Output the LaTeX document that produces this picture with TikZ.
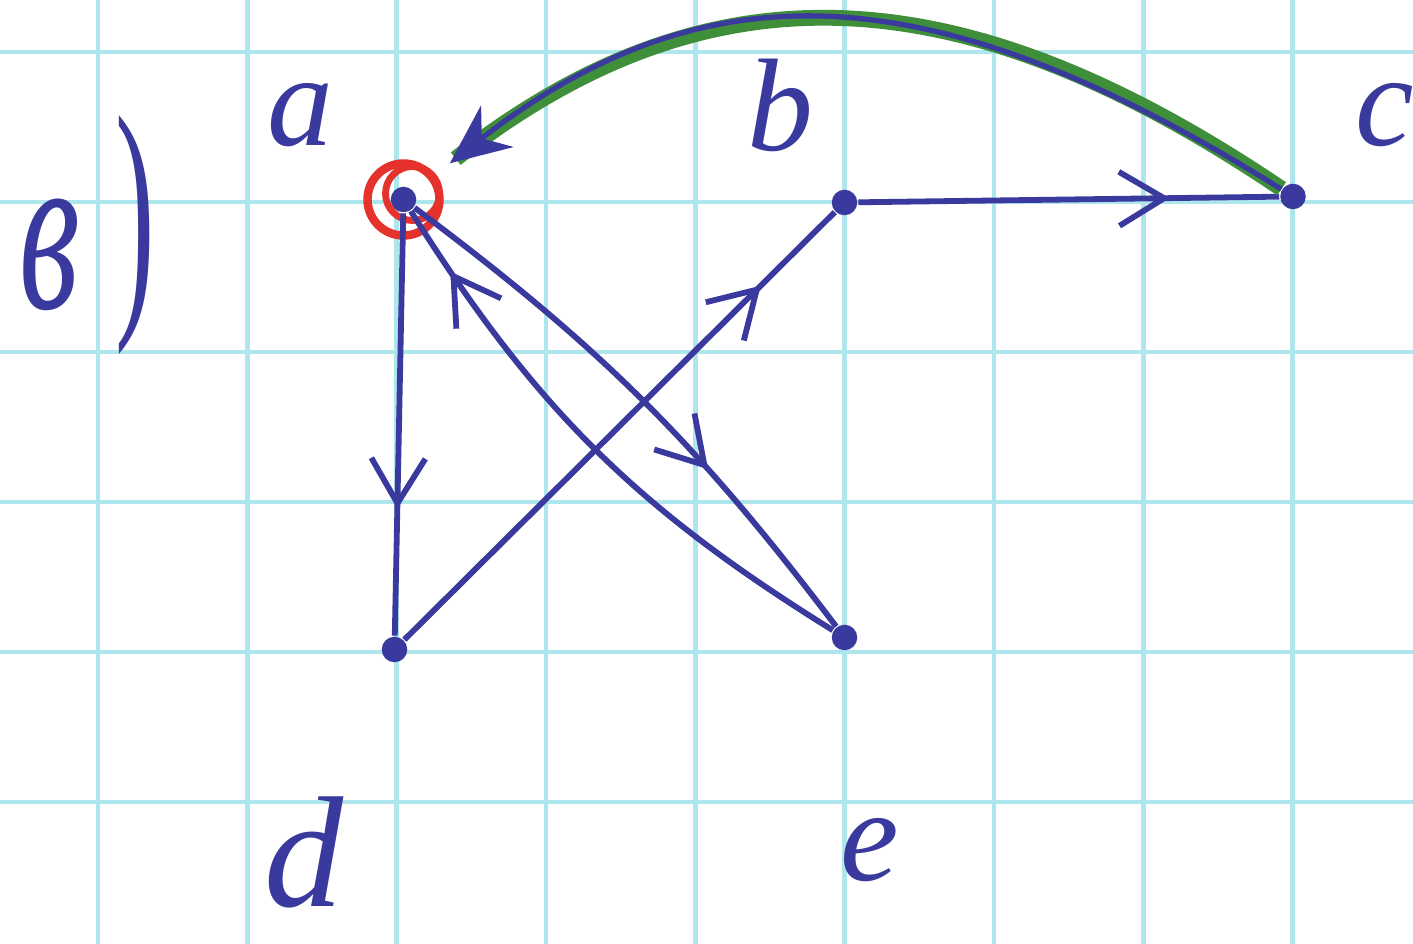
\documentclass[tikz,border=0pt]{standalone}
\usepackage{fontspec}
\setmainfont{Liberation Serif}
\usetikzlibrary{arrows.meta,decorations.markings}
\definecolor{ink}{HTML}{3A3A9E}
\definecolor{gridcyan}{HTML}{AEE6EE}
\definecolor{marker}{HTML}{3F8F3A}
\definecolor{redpen}{HTML}{E5322D}

\begin{document}
\begin{tikzpicture}[
    vertex/.style={circle,fill=ink,inner sep=0pt,minimum size=0.17cm},
    lbl/.style={text=ink,inner sep=0pt,font=\itshape\fontsize{25}{25}\selectfont},
    edge/.style={draw=ink,line width=1.1pt},
    gridline/.style={gridcyan,line width=0.9pt},
    midarrow/.style={postaction={decorate},decoration={markings,
      mark=at position #1 with {\arrow{Straight Barb[length=0.3cm,width=0.36cm,line width=1.1pt]}}}}]
  \useasboundingbox (0,0) rectangle (9.42,-6.293);
  \fill[white] (0,0) rectangle (9.42,-6.293);
  % squared paper
  \foreach \x in {0,...,8}
    \draw[gridline] (0.653+\x*0.9955,0) -- ++(0,-6.293);
  \foreach \y in {0,...,5}
    \draw[gridline] (0,-0.347-\y) -- ++(9.42,0);

  \node[lbl,font=\itshape\fontsize{44}{44}\selectfont] (part) at (0.33,-1.7) {\scalebox{0.6}[1]{в}};
  \node[lbl,font=\fontsize{50}{50}\selectfont] (paren) at (0.9,-1.57) {\scalebox{0.45}[1]{)}};

  \node[vertex] (a) at (2.69,-1.33) {};
  \node[vertex] (b) at (5.63,-1.35) {};
  \node[vertex] (c) at (8.62,-1.31) {};
  \node[vertex] (d) at (2.63,-4.33) {};
  \node[vertex] (e) at (5.63,-4.25) {};

  \node[lbl] (la) at (2.0,-0.77) {a};
  \node[lbl] (lb) at (5.2,-0.70) {b};
  \node[lbl] (lc) at (9.23,-0.77) {c};
  \node[lbl,font=\itshape\fontsize{30}{30}\selectfont] (ld) at (2.03,-5.68) {d};
  \node[lbl] (le) at (5.8,-5.67) {e};

  \draw[redpen,line width=1.6pt] (a) circle (0.24cm);
  \draw[redpen,line width=1.3pt] ([shift={(0.06,0.04)}]a.center) circle (0.18cm);

  \draw[edge,midarrow=0.70] (a) -- (d);
  \draw[edge,midarrow=0.83] (d) -- (b);
  \draw[edge,midarrow=0.74] (b) -- (c);
  \draw[edge,midarrow=0.66] (a) to[bend left=8] (e);
  \draw[edge,midarrow=0.88] (e) to[bend left=13] (a);

  \draw[marker,line width=3pt,shorten >=0.35cm] (c) to[out=146,in=38,looseness=1.12] (a);
  \draw[ink,line width=1pt,shorten >=0.3cm,-{Stealth[length=0.4cm,width=0.35cm]}]
    (c) to[out=148,in=38,looseness=1.14] (a);
\end{tikzpicture}
\end{document}
